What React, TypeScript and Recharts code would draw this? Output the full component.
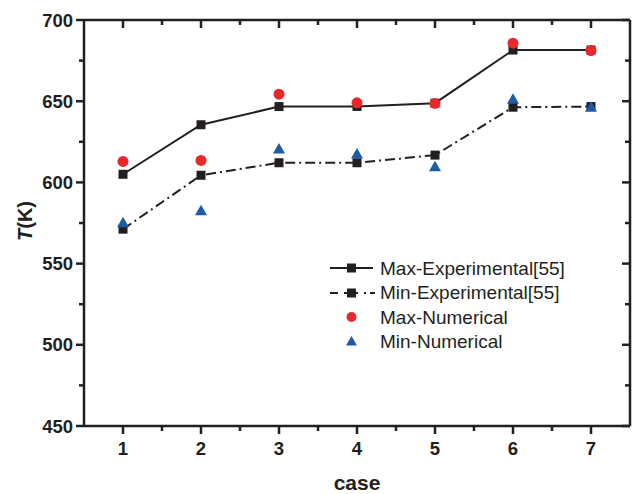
import { LineChart, Line, XAxis, YAxis, Legend } from 'recharts';

const cases = [1, 2, 3, 4, 5, 6, 7];
const maxExperimental = [605, 635.5, 646.7, 646.8, 648.8, 681.5, 681.5];
const minExperimental = [571.2, 604.4, 612.1, 612.1, 616.8, 646.3, 646.7];
const maxNumerical = [612.9, 613.5, 654.3, 649, 648.6, 685.7, 681.2];
const minNumerical = [574.9, 582.3, 620.3, 617.2, 609.4, 650.9, 645.9];

const xTicks = [1, 1.5, 2, 2.5, 3, 3.5, 4, 4.5, 5, 5.5, 6, 6.5, 7];
const yTicks = [450, 475, 500, 525, 550, 575, 600, 625, 650, 675, 700];

const INK = '#231f20';
const RED = '#e8282b';
const BLUE = '#1f5aa6';
const FONT = '"Liberation Sans", Arial, sans-serif';

const data = cases.map((c, i) => ({
  case: c,
  maxExp: maxExperimental[i],
  minExp: minExperimental[i],
  maxNum: maxNumerical[i],
  minNum: minNumerical[i],
}));

const isMajorX = (v: number) => Number.isInteger(v);
const isMajorY = (v: number) => v % 50 === 0;

// eslint-disable-next-line @typescript-eslint/no-explicit-any
const BottomTick = ({ x, y, payload }: any) => {
  const major = isMajorX(payload.value);
  return (
    <g>
      <line x1={x} x2={x} y1={y} y2={y + (major ? 8 : 5)} stroke={INK} strokeWidth={2.5} />
      {major && (
        <text x={x} y={y + 16} dy="0.71em" textAnchor="middle" fill={INK}
          style={{ fontFamily: FONT, fontSize: 18.5, fontWeight: 700 }}>
          {payload.value}
        </text>
      )}
    </g>
  );
};

// eslint-disable-next-line @typescript-eslint/no-explicit-any
const LeftTick = ({ x, y, payload }: any) => {
  const major = isMajorY(payload.value);
  return (
    <g>
      <line x1={x - (major ? 8 : 5)} x2={x} y1={y} y2={y} stroke={INK} strokeWidth={2.5} />
      {major && (
        <text x={x - 11} y={y} dy="0.36em" textAnchor="end" fill={INK}
          style={{ fontFamily: FONT, fontSize: 18.5, fontWeight: 700 }}>
          {payload.value}
        </text>
      )}
    </g>
  );
};

// eslint-disable-next-line @typescript-eslint/no-explicit-any
const TopTick = ({ x, y, payload }: any) => (
  <line x1={x} x2={x} y1={y} y2={y + (isMajorX(payload.value) ? 8 : 5)} stroke={INK} strokeWidth={2.5} />
);

// eslint-disable-next-line @typescript-eslint/no-explicit-any
const RightTick = ({ x, y, payload }: any) => (
  <line x1={x - (isMajorY(payload.value) ? 8 : 5)} x2={x} y1={y} y2={y} stroke={INK} strokeWidth={2.5} />
);

// eslint-disable-next-line @typescript-eslint/no-explicit-any
const SquareDot = ({ cx, cy, index }: any) => (
  <rect key={`s-${index}`} x={cx - 4.5} y={cy - 4.5} width={9} height={9} fill={INK} />
);

// eslint-disable-next-line @typescript-eslint/no-explicit-any
const CircleDot = ({ cx, cy, index }: any) => (
  <circle key={`c-${index}`} cx={cx} cy={cy} r={5.5} fill={RED} />
);

// eslint-disable-next-line @typescript-eslint/no-explicit-any
const TriangleDot = ({ cx, cy, index }: any) => (
  <path key={`t-${index}`} d={`M${cx},${cy - 6.5} L${cx + 6},${cy + 4} L${cx - 6},${cy + 4} Z`} fill={BLUE} />
);

// eslint-disable-next-line @typescript-eslint/no-explicit-any
const YLabel = ({ viewBox }: any) => {
  const cx = viewBox.x + 25;
  const cy = viewBox.y + viewBox.height / 2 - 2;
  return (
    <text x={cx} y={cy} transform={`rotate(-90, ${cx}, ${cy})`} textAnchor="middle" dy="0.36em"
      fill={INK} style={{ fontFamily: FONT, fontSize: 20, fontWeight: 700 }}>
      <tspan fontStyle="italic">T</tspan>
      <tspan>(K)</tspan>
    </text>
  );
};

const legendItems = [
  { name: 'Max-Experimental[55]', kind: 'solid' },
  { name: 'Min-Experimental[55]', kind: 'dashdot' },
  { name: 'Max-Numerical', kind: 'circle' },
  { name: 'Min-Numerical', kind: 'triangle' },
];

function LegendBox() {
  return (
    <div style={{ fontFamily: FONT, fontSize: 19, color: INK }}>
      {legendItems.map(item => (
        <div key={item.name} style={{ display: 'flex', alignItems: 'center', height: 24.5 }}>
          <svg width={50} height={14} style={{ display: 'block' }}>
            {item.kind === 'solid' && <line x1={0} x2={43} y1={7} y2={7} stroke={INK} strokeWidth={2} />}
            {item.kind === 'dashdot' && (
              <line x1={0} x2={45} y1={7} y2={7} stroke={INK} strokeWidth={2} strokeDasharray="8 6 14 6 2 4" />
            )}
            {(item.kind === 'solid' || item.kind === 'dashdot') && (
              <rect x={17} y={2.5} width={9} height={9} fill={INK} />
            )}
            {item.kind === 'circle' && <circle cx={21.5} cy={7} r={5} fill={RED} />}
            {item.kind === 'triangle' && <path d="M21.5,1 L27,10.5 L16,10.5 Z" fill={BLUE} />}
          </svg>
          <span style={{ lineHeight: 1 }}>{item.name}</span>
        </div>
      ))}
    </div>
  );
}

export default function App() {
  return (
    <div style={{ position: 'absolute', left: 0, top: 0, width: 632, height: 494, background: '#fff' }}>
      <LineChart width={632} height={494} data={data} margin={{ top: 19, right: 1, bottom: 0, left: 0 }}>
        <XAxis
          xAxisId="b"
          dataKey="case"
          type="number"
          domain={[0.5, 7.5]}
          ticks={xTicks}
          interval={0}
          height={68}
          tickSize={0}
          tickMargin={0}
          tickLine={false}
          tick={BottomTick}
          axisLine={{ stroke: INK, strokeWidth: 2.5 }}
          label={{ value: 'case', position: 'insideBottom', offset: 4, fill: INK, style: { fontFamily: FONT, fontSize: 21, fontWeight: 700 } }}
        />
        <XAxis
          xAxisId="t"
          orientation="top"
          dataKey="case"
          type="number"
          domain={[0.5, 7.5]}
          ticks={xTicks}
          interval={0}
          height={1}
          tickSize={0}
          tickMargin={0}
          tickLine={false}
          tick={TopTick}
          axisLine={{ stroke: INK, strokeWidth: 2.5 }}
        />
        <YAxis
          yAxisId="l"
          type="number"
          domain={[450, 700]}
          ticks={yTicks}
          interval={0}
          width={84}
          tickSize={0}
          tickMargin={0}
          tickLine={false}
          tick={LeftTick}
          axisLine={{ stroke: INK, strokeWidth: 2.5 }}
          label={{ content: YLabel }}
        />
        <YAxis
          yAxisId="r"
          orientation="right"
          type="number"
          domain={[450, 700]}
          ticks={yTicks}
          interval={0}
          width={1}
          tickSize={0}
          tickMargin={0}
          tickLine={false}
          tick={RightTick}
          axisLine={{ stroke: INK, strokeWidth: 2.5 }}
        />
        <Legend
          layout="vertical"
          align="center"
          verticalAlign="middle"
          content={() => <LegendBox />}
          wrapperStyle={{ left: 330, top: 256, width: 300 }}
        />
        {/* invisible series so the frame axes (top/right) are bound to data */}
        <Line xAxisId="t" yAxisId="r" dataKey="maxExp" stroke="none" dot={false} activeDot={false}
          legendType="none" isAnimationActive={false} />
        <Line xAxisId="b" yAxisId="l" dataKey="maxExp" name="Max-Experimental[55]" stroke={INK} strokeWidth={2}
          dot={SquareDot} activeDot={false} isAnimationActive={false} />
        <Line xAxisId="b" yAxisId="l" dataKey="minExp" name="Min-Experimental[55]" stroke={INK} strokeWidth={2}
          strokeDasharray="10 4 2 4" dot={SquareDot} activeDot={false} isAnimationActive={false} />
        <Line xAxisId="b" yAxisId="l" dataKey="maxNum" name="Max-Numerical" stroke="transparent" strokeWidth={0}
          dot={CircleDot} activeDot={false} isAnimationActive={false} />
        <Line xAxisId="b" yAxisId="l" dataKey="minNum" name="Min-Numerical" stroke="transparent" strokeWidth={0}
          dot={TriangleDot} activeDot={false} isAnimationActive={false} />
      </LineChart>
    </div>
  );
}
